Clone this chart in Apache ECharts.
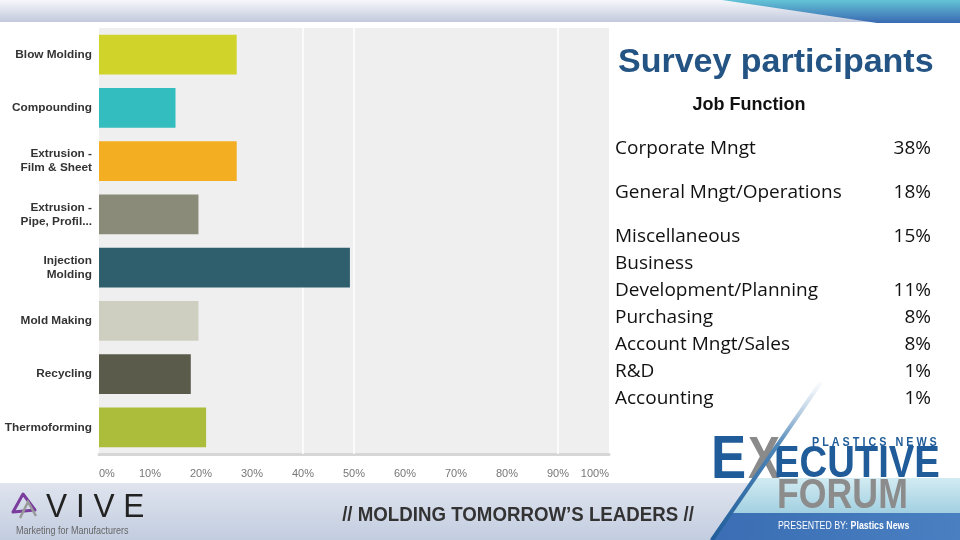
<!DOCTYPE html>
<html>
<head>
<meta charset="utf-8">
<script src="https://cdn.jsdelivr.net/npm/echarts@6/dist/echarts.min.js"></script>
<style>
html,body{margin:0;padding:0;background:#fff;}
#c{width:960px;height:540px;}
</style>
</head>
<body>
<div id="c"></div>
<script>
// ---- Data ----
const categories = ['Blow Molding', 'Compounding', 'Extrusion -\nFilm & Sheet', 'Extrusion -\nPipe, Profil...', 'Injection\nMolding', 'Mold Making', 'Recycling', 'Thermoforming'];
const values = [27, 15, 27, 19.5, 49.2, 19.5, 18, 21];
const barColors = ['#d0d42a', '#33bdbf', '#f4ae22', '#8b8b7a', '#2f5f6d', '#cfcfc1', '#5b5b4c', '#abbd3a'];
const visibleGridLines = [40, 50, 90];
const xTickInterval = 10;

const titleText = 'Survey participants';
const subTitleText = 'Job Function';
const jobFunctions = ['Corporate Mngt', 'General Mngt/Operations', 'Miscellaneous', 'Business\nDevelopment/Planning', 'Purchasing', 'Account Mngt/Sales', 'R&D', 'Accounting'];
const jobShares = ['38%', '18%', '15%', '11%', '8%', '8%', '1%', '1%'];

// ---- Layout (positions only) ----
const rowY = [149, 193, 237, 264, 318, 345, 372, 399];
const lineH = 27;

const chart = echarts.init(document.getElementById('c'), null, {renderer: 'canvas'});

const graphics = [];
// top band
graphics.push({type: 'rect', shape: {x: 0, y: 0, width: 960, height: 22}, z: -10,
  style: {fill: new echarts.graphic.LinearGradient(0, 0, 0, 1, [{offset: 0, color: '#f6f7fb'}, {offset: 1, color: '#c2c9dc'}])}});
graphics.push({type: 'polygon', shape: {points: [[722, 0], [960, 0], [960, 23], [877, 23]]}, z: -9,
  style: {fill: new echarts.graphic.LinearGradient(0, 0, 0, 1, [{offset: 0, color: '#63c3d6'}, {offset: 1, color: '#3a69b2'}])}});
// bottom band
graphics.push({type: 'rect', shape: {x: 0, y: 483, width: 960, height: 57}, z: -10,
  style: {fill: new echarts.graphic.LinearGradient(0, 0, 0, 1, [{offset: 0, color: '#dfe4ee'}, {offset: 1, color: '#c3cde0'}])}});
graphics.push({type: 'polygon', shape: {points: [[752.6, 478], [960, 478], [960, 513], [728.6, 513]]}, z: -9,
  style: {fill: new echarts.graphic.LinearGradient(0, 0, 0, 1, [{offset: 0, color: '#d2ebf2'}, {offset: 1, color: '#a2d0e1'}])}});
graphics.push({type: 'polygon', shape: {points: [[728.6, 513], [960, 513], [960, 540], [710, 540]]}, z: -9,
  style: {fill: new echarts.graphic.LinearGradient(0, 0, 1, 0, [{offset: 0, color: '#3a6db3'}, {offset: 1, color: '#4a80c2'}])}});

// title & table
graphics.push({type: 'text', x: 618, y: 63, z: 5,
  style: {text: titleText, font: 'bold 34px "Liberation Sans", Arial, sans-serif', fill: '#245483', textAlign: 'left', textVerticalAlign: 'middle'}});
graphics.push({type: 'text', x: 749, y: 105, z: 5,
  style: {text: subTitleText, font: 'bold 18px "Liberation Sans", Arial, sans-serif', fill: '#111', textAlign: 'center', textVerticalAlign: 'middle'}});
jobFunctions.forEach((name, i) => {
  const lines = name.split('\n');
  lines.forEach((ln, k) => {
    graphics.push({type: 'text', x: 615, y: rowY[i] + k * lineH, z: 5,
      style: {text: ln, font: '19px "Open Sans", sans-serif', fill: '#111', textAlign: 'left', textVerticalAlign: 'middle'}});
  });
  graphics.push({type: 'text', x: 931, y: rowY[i] + (lines.length - 1) * lineH, z: 5,
    style: {text: jobShares[i], font: '19px "Open Sans", sans-serif', fill: '#111', textAlign: 'right', textVerticalAlign: 'middle'}});
});

// Executive Forum logo
graphics.push({type: 'text', x: 748, y: 461, z: 4, scaleX: 0.8,
  style: {text: 'X', font: 'bold 60px "Liberation Sans", Arial, sans-serif', fill: '#8a8a8a', textAlign: 'left', textVerticalAlign: 'middle'}});
graphics.push({type: 'text', x: 711, y: 461, z: 5, scaleX: 0.85,
  style: {text: 'E', font: 'bold 62px "Liberation Sans", Arial, sans-serif', fill: '#1f5c99', textAlign: 'left', textVerticalAlign: 'middle'}});
graphics.push({type: 'line', shape: {x1: 821, y1: 382, x2: 712, y2: 540}, z: 6,
  style: {lineWidth: 4, stroke: new echarts.graphic.LinearGradient(0, 0, 0, 1, [{offset: 0, color: 'rgba(255,255,255,0.6)'}, {offset: 0.4, color: '#4f86b8'}, {offset: 1, color: '#1f5c99'}])}});
graphics.push({type: 'text', x: 812, y: 443, z: 5, scaleX: 0.9,
  style: {text: 'P L A S T I C S   N E W S', font: 'bold 12px "Liberation Sans", Arial, sans-serif', fill: '#1f5c99', textAlign: 'left', textVerticalAlign: 'middle'}});
graphics.push({type: 'text', x: 774, y: 465, z: 5, scaleX: 0.87,
  style: {text: 'ECUTIVE', font: 'bold 44px "Liberation Sans", Arial, sans-serif', fill: '#1f5c99', textAlign: 'left', textVerticalAlign: 'middle'}});
graphics.push({type: 'text', x: 777, y: 496, z: 5, scaleX: 0.85,
  style: {text: 'FORUM', font: 'bold 42px "Liberation Sans", Arial, sans-serif', fill: '#8c8c8c', textAlign: 'left', textVerticalAlign: 'middle'}});
graphics.push({type: 'text', x: 778, y: 526, z: 5, scaleX: 0.8,
  style: {text: '{a|PRESENTED BY:} {b|Plastics News}', textVerticalAlign: 'middle', textAlign: 'left',
    rich: {a: {font: '11px "Liberation Sans", Arial, sans-serif', fill: '#fff'}, b: {font: 'bold 11px "Liberation Sans", Arial, sans-serif', fill: '#fff'}}}});

// Molding tomorrow's leaders
graphics.push({type: 'text', x: 518, y: 515, z: 5, scaleX: 0.89,
  style: {text: '// MOLDING TOMORROW\u2019S LEADERS //', font: 'bold 21px "Liberation Sans", Arial, sans-serif', fill: '#333', textAlign: 'center', textVerticalAlign: 'middle'}});

// VIVE logo
graphics.push({type: 'polygon', shape: {points: [[13, 512], [23, 494], [35, 510]]}, z: 5,
  style: {fill: 'none', stroke: '#7a3d9e', lineWidth: 3, lineJoin: 'round'}});
graphics.push({type: 'polyline', shape: {points: [[20, 518], [28, 502], [36, 516]]}, z: 5,
  style: {fill: 'none', stroke: '#999', lineWidth: 2.5}});
graphics.push({type: 'text', x: 46, y: 508, z: 5, scaleX: 0.93,
  style: {text: 'V I V E', font: '34px "Liberation Sans", Arial, sans-serif', fill: '#222', textAlign: 'left', textVerticalAlign: 'middle'}});
graphics.push({type: 'text', x: 16, y: 531, z: 5, scaleX: 0.9,
  style: {text: 'Marketing for Manufacturers', font: '10px "Liberation Sans", Arial, sans-serif', fill: '#666', textAlign: 'left', textVerticalAlign: 'middle'}});

const option = {
  backgroundColor: '#ffffff',
  animation: false,
  grid: {left: 99, right: 351, top: 28, bottom: 86, show: true, backgroundColor: '#efefef', borderWidth: 0, containLabel: false},
  xAxis: {
    type: 'value', min: 0, max: 100, interval: xTickInterval,
    axisLine: {show: true, lineStyle: {color: '#d6d6d6', width: 3}},
    axisTick: {show: false},
    splitLine: {show: false},
    axisLabel: {formatter: '{value}%', color: '#777', fontSize: 11, fontFamily: '"Liberation Sans", Arial, sans-serif', margin: 14, alignMinLabel: 'left', alignMaxLabel: 'right'}
  },
  yAxis: {
    type: 'category', data: categories, inverse: true,
    axisLine: {show: false}, axisTick: {show: false}, splitLine: {show: false},
    axisLabel: {color: '#333', fontSize: 11.8, fontWeight: 'bold', fontFamily: '"Liberation Sans", Arial, sans-serif', margin: 7, lineHeight: 14, align: 'right'}
  },
  series: [{
    type: 'bar',
    data: values.map((v, i) => ({value: v, itemStyle: {color: barColors[i]}})),
    barCategoryGap: '25%',
    z: 3,
    markLine: {
      silent: true, symbol: 'none', label: {show: false},
      lineStyle: {color: '#ffffff', width: 1.5, type: 'solid'},
      data: visibleGridLines.map(v => ({xAxis: v})),
      z: 1
    }
  }],
  graphic: graphics
};
chart.setOption(option);
</script>
</body>
</html>
